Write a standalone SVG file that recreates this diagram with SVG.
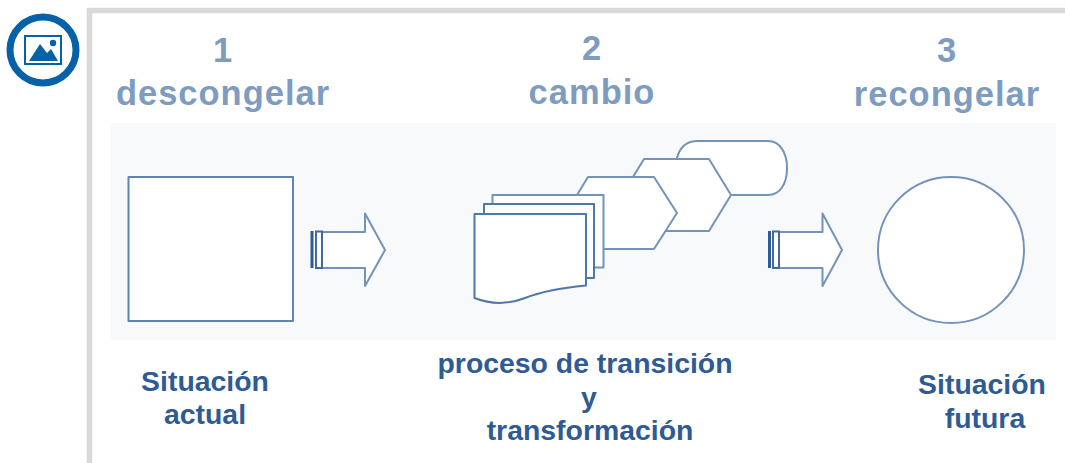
<svg xmlns="http://www.w3.org/2000/svg" width="1065" height="463" viewBox="0 0 1065 463">
<style>
.h{font-family:"Liberation Sans",Arial,sans-serif;font-weight:bold;font-size:34.500px;fill:#7e9cc0;text-anchor:middle;letter-spacing:1px}
.l{font-family:"Liberation Sans",Arial,sans-serif;font-weight:bold;font-size:28.400px;fill:#2f5b94;text-anchor:middle}
.s{fill:#fff;stroke:#7393bb;stroke-width:2;stroke-linejoin:round}
.d{fill:#fff;stroke:#4f77aa;stroke-width:2;stroke-linejoin:round}
</style>
<rect width="1065" height="463" fill="#fff"/>
<g id="frame"><path d="M89.500 463V10.500H1065" fill="none" stroke="#d9d9d9" stroke-width="5.500"/></g>
<g id="icon">
<circle cx="43" cy="50" r="33" fill="#fff" stroke="#0561a8" stroke-width="7"/>
<rect x="25" y="36" width="36" height="28" fill="none" stroke="#0561a8" stroke-width="2"/>
<path d="M29 61L40 44L47 53L51 49L58 61Z" fill="#0561a8"/>
<circle cx="53" cy="43" r="3.200" fill="#0561a8"/>
</g>
<g id="panel"><rect x="111" y="123" width="945" height="217" fill="#f7f9fb"/></g>
<g id="headers">
<text class="h" x="223" y="62">1</text><text class="h" x="223" y="105">descongelar</text>
<text class="h" x="592" y="60">2</text><text class="h" x="592" y="104">cambio</text>
<text class="h" x="947" y="62">3</text><text class="h" x="947" y="106">recongelar</text>
</g>
<g id="square"><rect class="s" x="128.500" y="177" width="164.500" height="144" style="stroke:#5f84b2"/></g>
<g id="circle"><circle class="s" cx="951" cy="250" r="73"/></g>
<g id="process">
<path class="s" d="M677 158C680 146 688 141 698 141H768C780 141 787 153 787 168C787 184 780 195 768 195H725L690 170Z"/>
<path class="s" d="M633 177L644 159H709L731 195L709 231H665L650 195Z"/>
<path class="s" d="M577 195L588 177H654L677 213L654 249H600L590 220Z"/>
<rect class="s" x="492.500" y="195" width="111" height="72.500"/>
<rect class="d" x="484" y="204" width="110" height="74"/>
<path class="d" d="M474.500 214H586V285.500C560 288 540 292 525 298C512 303 495 306 474.500 298Z"/>
</g>
<g id="connectors">
<g id="arrow1">
<path class="s" d="M322 232H365V213.500L385 250L365 286V268H322Z"/>
<rect x="310.500" y="231" width="3" height="37" fill="#2f5b94"/>
<rect x="316" y="231.500" width="6" height="36.500" fill="#fff" stroke="#3f6aa1" stroke-width="2"/>
</g>
<g id="arrow2">
<path class="s" d="M779 232H822.500V213.500L842 250L822.500 286V268H779Z"/>
<rect x="768" y="231" width="3" height="37" fill="#2f5b94"/>
<rect x="773" y="231.500" width="6" height="36.500" fill="#fff" stroke="#3f6aa1" stroke-width="2"/>
</g>
</g>
<g id="labels">
<text class="l" x="205" y="391">Situación</text><text class="l" x="205" y="424">actual</text>
<text class="l" x="585" y="373">proceso de transición</text><text class="l" x="589" y="407">y</text><text class="l" x="590" y="440">transformación</text>
<text class="l" x="982" y="394">Situación</text><text class="l" x="985" y="428">futura</text>
</g>
</svg>
